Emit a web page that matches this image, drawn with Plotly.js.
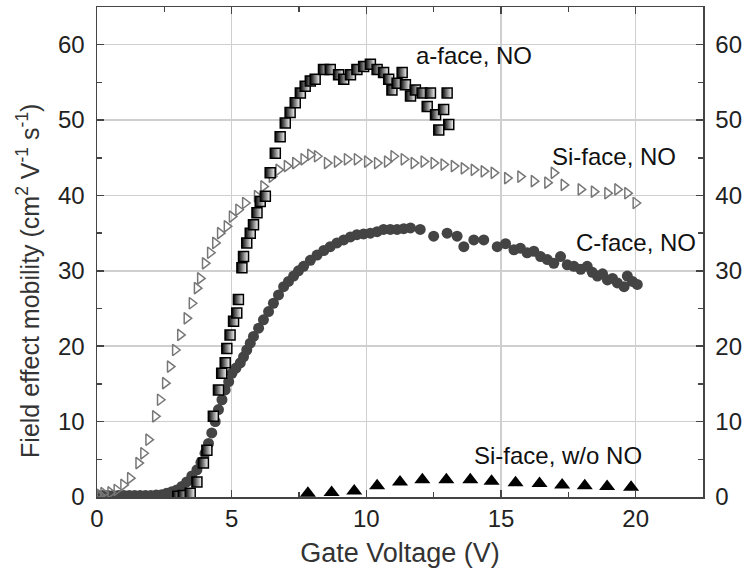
<!DOCTYPE html>
<html>
<head>
<meta charset="utf-8">
<script src="https://cdn.plot.ly/plotly-3.0.1.min.js"></script>
<style>html,body{margin:0;padding:0;background:#fff;}#chart{width:744px;height:583px;}</style>
</head>
<body>
<div id="chart"></div>
<script>
// a-face, NO
const aFaceV  = [3.0,3.2,3.46,3.71,3.95,4.08,4.32,4.51,4.63,4.76,4.82,4.94,5.07,5.19,5.25,5.38,5.44,5.56,5.69,5.81,5.94,6.06,6.25,6.43,6.62,6.80,6.99,7.17,7.36,7.55,7.73,7.92,8.10,8.41,8.66,8.97,9.16,9.41,9.65,9.90,10.15,10.40,10.64,10.83,10.95,11.14,11.33,11.45,11.64,11.82,12.07,12.26,12.38,12.57,12.69,12.87,13.0,13.06];
const aFaceMu = [0.1,0.2,0.5,2.0,4.5,6.2,10.7,14.2,16.4,17.8,19.7,21.5,23.3,24.4,26.2,30.4,31.9,33.7,35.0,36.1,37.7,39.2,39.9,43.0,45.6,47.8,49.6,51.0,52.3,53.6,54.5,55.2,55.4,56.7,56.7,56.0,55.4,56.0,56.7,57.1,57.4,56.7,56.3,55.4,54.0,54.9,56.3,54.7,53.2,54.0,53.6,51.8,53.6,50.7,48.7,51.4,53.6,49.4];

// Si-face, NO
const siNoV  = [0.0,0.1,0.24,0.5,0.73,0.98,1.23,1.54,1.72,1.91,2.16,2.34,2.53,2.71,2.90,3.09,3.33,3.52,3.71,3.83,4.01,4.20,4.39,4.57,4.82,5.01,5.25,5.50,5.94,6.18,6.49,6.74,7.05,7.36,7.67,7.92,8.17,8.54,8.91,9.28,9.65,10.03,10.40,10.77,11.01,11.39,11.76,12.13,12.50,12.87,13.25,13.62,13.99,14.36,14.73,15.23,15.72,16.22,16.72,16.96,17.33,17.96,18.45,18.95,19.32,19.69,20.0];
const siNoMu = [0.3,0.3,0.5,0.6,0.93,1.6,2.5,4.5,5.8,7.6,10.7,12.9,15.1,17.3,19.5,21.5,23.7,25.7,27.7,29.0,31.0,32.4,33.7,35.0,35.9,37.2,38.1,39.0,39.9,41.2,42.5,43.4,43.9,44.3,44.8,45.4,45.2,44.3,44.5,44.8,44.8,44.5,44.3,44.5,45.2,44.8,44.3,44.5,44.3,44.1,43.9,43.6,43.4,43.2,43.0,42.3,42.5,41.9,41.7,43.0,41.4,40.8,40.5,40.3,40.8,40.3,39.0];

// C-face, NO
const cFaceV  = [0.0,0.2,0.4,0.6,0.8,1.0,1.2,1.4,1.6,1.8,2.0,2.2,2.4,2.59,2.78,2.96,3.15,3.33,3.52,3.71,3.86,4.01,4.14,4.26,4.39,4.51,4.64,4.76,4.89,5.01,5.16,5.32,5.44,5.56,5.69,5.81,6.0,6.18,6.37,6.55,6.74,6.93,7.11,7.30,7.48,7.67,7.92,8.17,8.42,8.66,8.91,9.16,9.41,9.65,9.90,10.15,10.40,10.64,10.89,11.14,11.39,11.64,12.0,12.5,13.0,13.37,13.62,13.99,14.36,14.86,15.17,15.48,15.72,15.97,16.22,16.47,16.72,16.96,17.21,17.46,17.71,17.96,18.20,18.39,18.58,18.77,18.95,19.14,19.32,19.57,19.69,19.88,20.06];
const cFaceMu = [0.2,0.2,0.2,0.2,0.2,0.2,0.2,0.2,0.2,0.2,0.2,0.25,0.3,0.5,0.7,0.93,1.4,2.0,2.8,3.6,4.6,5.8,7.1,8.5,10.0,11.6,12.9,14.2,15.3,16.4,17.1,17.8,18.6,19.5,20.4,21.3,22.4,23.5,24.6,25.7,26.8,27.9,28.6,29.3,30.0,30.6,31.4,32.1,32.7,33.2,33.7,34.1,34.5,34.8,34.9,35.0,35.2,35.5,35.5,35.5,35.6,35.7,35.5,34.6,35.0,34.6,33.2,34.1,34.1,33.2,33.6,32.8,33.0,32.4,32.6,31.9,31.5,31.0,31.9,30.8,30.6,30.2,30.6,29.8,29.3,29.6,28.8,29.0,28.4,27.9,29.3,28.6,28.2];

// Si-face, w/o NO
const siWoV  = [7.83,8.71,9.55,10.4,11.25,12.08,12.97,13.86,14.65,15.54,16.43,17.27,18.11,18.94,19.83];
const siWoMu = [0.5,0.6,0.8,1.5,2.0,2.3,2.3,2.3,2.1,1.9,1.8,1.6,1.5,1.4,1.3];

// labels
const seriesLabels = ["a-face, NO","Si-face, NO","C-face, NO","Si-face, w/o NO"];
const labelV  = [14.0,19.2,20.0,17.1];
const labelMu = [58.6,45.2,33.8,5.5];
const xTitle = 'Gate Voltage (V)';
const yTitle = 'Field effect mobility (cm<sup>2</sup> V<sup>-1</sup> s<sup>-1</sup>)';

const FONT = "Liberation Sans, Arial, sans-serif";

const traces = [
  {x: cFaceV, y: cFaceMu, type:'scatter', mode:'markers', name: seriesLabels[2],
   marker:{symbol:'circle', size:11, color:'#444', line:{width:0}}},
  {x: siNoV, y: siNoMu, type:'scatter', mode:'markers', name: seriesLabels[1],
   marker:{symbol:'triangle-right-open', size:10, color:'#777', line:{width:1.5, color:'#777'}}},
  {x: aFaceV, y: aFaceMu, type:'scatter', mode:'markers', name: seriesLabels[0],
   marker:{symbol:'square', size:10, color:'#000', gradient:{type:'horizontal', color:'#fff'}, line:{width:1.5, color:'#000'}}},
  {x: siWoV, y: siWoMu, type:'scatter', mode:'markers', name: seriesLabels[3], yaxis:'y2',
   marker:{symbol:'triangle-up', size:14, color:'#000', line:{width:0}}}
];

const annotations = seriesLabels.map((t,i)=>({
  x: labelV[i], y: labelMu[i], xref:'x', yref:'y', text:t, showarrow:false,
  font:{family:FONT, size:24, color:'#111'}, xanchor:'center', yanchor:'middle'
}));
annotations.push({
  xref:'paper', yref:'paper', x:-0.113, y:0.44, text:yTitle, textangle:-90, showarrow:false,
  font:{family:FONT, size:25, color:'#333'}, xanchor:'center', yanchor:'middle'
});

const tickFont = {family:FONT, size:24, color:'#222'};
const common = {
  range:[0,65], dtick:10, tick0:0, zeroline:false, showline:true, linecolor:'#444', linewidth:1.5,
  ticks:'inside', ticklen:7, tickcolor:'#444', tickwidth:1.5, ticklabelstandoff:6,
  minor:{ticks:'inside', dtick:5, ticklen:5, tickcolor:'#444', showgrid:false},
  tickfont: tickFont
};

const layout = {
  width:744, height:583,
  margin:{l:97, r:41, t:7, b:86},
  paper_bgcolor:'#fff', plot_bgcolor:'#fff',
  showlegend:false,
  font:{family:FONT, color:'#222'},
  xaxis:{
    range:[0,22.5], dtick:5, tick0:0, showgrid:true, gridcolor:'#cfcfcf', gridwidth:1.5,
    zeroline:false, showline:true, linecolor:'#444', linewidth:1.5, mirror:'ticks',
    ticks:'inside', ticklen:7, tickcolor:'#444', tickwidth:1.5,
    minor:{ticks:'inside', dtick:2.5, ticklen:5, tickcolor:'#444', showgrid:false},
    tickfont: tickFont,
    title:{text:xTitle, font:{family:FONT, size:27, color:'#333'}, standoff:12}
  },
  yaxis: Object.assign({}, common, {showgrid:true, gridcolor:'#cfcfcf', gridwidth:1.5}),
  yaxis2: Object.assign({}, common, {overlaying:'y', side:'right', showgrid:false}),
  annotations: annotations
};

Plotly.newPlot('chart', traces, layout, {displayModeBar:false, staticPlot:true});
</script>
</body>
</html>
